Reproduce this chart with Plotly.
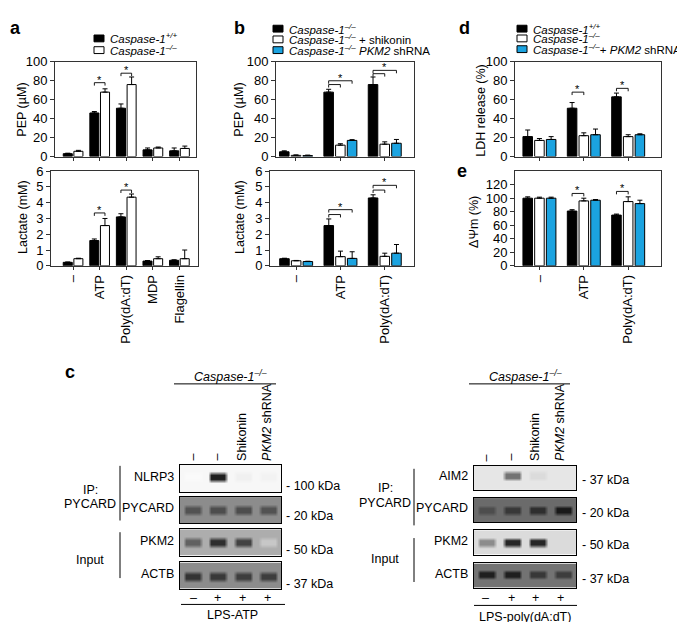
import plotly.graph_objects as go

W, H = 685, 622
FONT = "Liberation Sans, Arial, Helvetica, sans-serif"
BLUE = "#1ba3e0"

# ---------------- data ----------------
cats_a = ["–", "ATP", "Poly(dA:dT)", "MDP", "Flagellin"]
cats_b = ["–", "ATP", "Poly(dA:dT)"]

a_pep_wt = [3, 46, 51, 7, 6]
a_pep_wt_err = [0.5, 1.5, 4.5, 2, 3]
a_pep_ko = [5.5, 68, 76, 9, 8.5]
a_pep_ko_err = [1, 3.5, 8, 1, 2.5]

a_lac_wt = [0.22, 1.6, 3.1, 0.3, 0.35]
a_lac_wt_err = [0.02, 0.1, 0.2, 0.03, 0.03]
a_lac_ko = [0.45, 2.55, 4.35, 0.45, 0.45]
a_lac_ko_err = [0.03, 0.45, 0.2, 0.12, 0.55]

b_pep_ko = [5, 68, 76]
b_pep_ko_err = [1, 3, 8]
b_pep_shk = [1.2, 12, 13]
b_pep_shk_err = [0.5, 1.5, 2.5]
b_pep_sh = [1, 17, 14]
b_pep_sh_err = [0.5, 0.8, 4]

b_lac_ko = [0.45, 2.55, 4.3]
b_lac_ko_err = [0.03, 0.42, 0.2]
b_lac_shk = [0.32, 0.58, 0.6]
b_lac_shk_err = [0.02, 0.35, 0.2]
b_lac_sh = [0.27, 0.47, 0.8]
b_lac_sh_err = [0.02, 0.42, 0.55]

d_wt = [21, 51, 63]
d_wt_err = [7, 6, 4]
d_ko = [17, 22, 21]
d_ko_err = [2, 3, 2]
d_sh = [18, 23, 23]
d_sh_err = [3, 6, 1]

e_wt = [100, 81, 75]
e_wt_err = [2, 2, 1.5]
e_ko = [100, 96, 95]
e_ko_err = [1.5, 4, 7]
e_sh = [100, 97, 92]
e_sh_err = [1.5, 1, 5]

# significance brackets: (category, series_from, series_to, height)
a_pep_sig = [(1, 0, 1, 78), (2, 0, 1, 88)]
a_lac_sig = [(1, 0, 1, 3.35), (2, 0, 1, 4.8)]
b_pep_sig = [(1, 0, 1, 76), (1, 0, 2, 80), (2, 0, 1, 87.5), (2, 0, 2, 91)]
b_lac_sig = [(1, 0, 1, 3.25), (1, 0, 2, 3.56), (2, 0, 1, 4.8), (2, 0, 2, 5.1)]
d_sig = [(1, 0, 1, 68), (2, 0, 1, 72)]
e_sig = [(1, 0, 1, 107), (2, 0, 1, 110)]

# western blot band intensities (0 = white, 1 = black), 4 lanes each
blot_left_rows = ["NLRP3", "PYCARD", "PKM2", "ACTB"]
blot_left_kda = ["- 100 kDa", "- 20 kDa", "- 50 kDa", "- 37 kDa"]
blot_left_bands = [[0.02, 0.88, 0.06, 0.05],
                   [0.68, 0.70, 0.70, 0.68],
                   [0.62, 0.82, 0.74, 0.22],
                   [0.80, 0.78, 0.76, 0.76]]
blot_left_bg = [0.03, 0.45, 0.32, 0.45]

blot_right_rows = ["AIM2", "PYCARD", "PKM2", "ACTB"]
blot_right_kda = ["- 37 kDa", "- 20 kDa", "- 50 kDa", "- 37 kDa"]
blot_right_bands = [[0.10, 0.55, 0.14, 0.10],
                    [0.70, 0.78, 0.82, 0.90],
                    [0.45, 0.85, 0.85, 0.14],
                    [0.88, 0.88, 0.78, 0.76]]
blot_right_bg = [0.10, 0.58, 0.14, 0.55]

lane_labels = ["–", "–", "Shikonin", "<i>PKM2</i> shRNA"]
lps_signs = ["–", "+", "+", "+"]

# ---------------- helpers ----------------
fig = go.Figure()
layout = {}
shapes = []
annotations = []


def px_x(x):
    return x / W


def px_y(y):
    return 1 - y / H


def ann(text, x, y, size=12, xanchor="center", yanchor="middle", angle=0, **kw):
    annotations.append(dict(text=text, x=px_x(x), y=px_y(y), xref="paper", yref="paper",
                            showarrow=False, xanchor=xanchor, yanchor=yanchor,
                            textangle=angle, font=dict(family=FONT, size=size, color="black"), **kw))


def line(x0, y0, x1, y1, w=1):
    shapes.append(dict(type="line", xref="paper", yref="paper", x0=px_x(x0), y0=px_y(y0),
                       x1=px_x(x1), y1=px_y(y1), line=dict(color="black", width=w)))


axis_counter = [0]


def new_axes(xpx, ypx, xr, yr):
    axis_counter[0] += 1
    i = axis_counter[0]
    sfx = "" if i == 1 else str(i)
    layout["xaxis" + sfx] = dict(domain=[px_x(xpx[0]), px_x(xpx[1])], range=list(xr),
                                anchor="y" + sfx, showgrid=False, zeroline=False)
    layout["yaxis" + sfx] = dict(domain=[px_y(ypx[1]), px_y(ypx[0])], range=list(yr),
                                anchor="x" + sfx, showgrid=False, zeroline=False)
    return "x" + sfx, "y" + sfx, sfx


def bar_chart(xpx, ypx, xr, yr, series, widths, offsets, ytick, xlabels, sig, n):
    xa, ya, sfx = new_axes(xpx, ypx, xr, yr)
    cats = list(range(n))
    for (vals, errs, color), off in zip(series, offsets):
        fig.add_trace(go.Bar(x=cats, y=vals, width=widths, offset=off, xaxis=xa, yaxis=ya,
                             marker=dict(color=color, line=dict(color="black", width=1)),
                             error_y=dict(type="data", array=errs, arrayminus=[0] * n,
                                          symmetric=False, thickness=1, width=2.5, color="black"),
                             showlegend=False, hoverinfo="skip"))
    ax_style = dict(showline=True, linecolor="#333", linewidth=1, mirror=True,
                    ticks="outside", tickcolor="#333", tickfont=dict(family=FONT, size=13, color="black"))
    layout["xaxis" + sfx].update(ax_style, tickvals=cats, ticklen=3,
                                 ticktext=xlabels if xlabels else [""] * n, tickangle=-90)
    layout["yaxis" + sfx].update(ax_style, tickvals=ytick, ticklen=4)
    # brackets
    px_h = ypx[1] - ypx[0]
    tick = 3.0 * (yr[1] - yr[0]) / px_h
    centers = [o + widths / 2 for o in offsets]
    best = {}
    for cat, s1, s2, h in sig:
        x1, x2 = cat + centers[s1], cat + centers[s2]
        shapes.append(dict(type="path", xref=xa, yref=ya,
                           path=f"M {x1},{h - tick} L {x1},{h} L {x2},{h} L {x2},{h - tick}",
                           line=dict(color="black", width=0.9)))
        if cat not in best or h > best[cat][0]:
            best[cat] = (h, (x1 + x2) / 2)
    for cat, (h, xm) in best.items():
        annotations.append(dict(text="*", x=xm, y=h, xref=xa, yref=ya, showarrow=False,
                                yanchor="bottom", yshift=-5,
                                font=dict(family=FONT, size=11, color="black")))


def blot(xpx, ypx, bands, bg, yc=0.5, h=0.22):
    xa, ya, sfx = new_axes(xpx, ypx, (0, 4), (0, 1))
    xs = [0.0]
    for i in range(4):
        xs += [i + 0.1, i + 0.24, i + 0.76, i + 0.9]
    xs.append(4.0)
    yu = 1 - yc
    ys = [0.0, yu - h, yu - h / 3, yu + h / 3, yu + h, 1.0]
    band_row = [bg]
    for b in bands:
        band_row += [bg, b, b, bg]
    band_row.append(bg)
    bg_row = [bg] * len(xs)
    z = [bg_row, bg_row, band_row, band_row, bg_row, bg_row]
    fig.add_trace(go.Heatmap(x=xs, y=ys, z=z, xaxis=xa, yaxis=ya, zmin=0, zmax=1,
                             colorscale=[[0, "white"], [1, "black"]], zsmooth="best",
                             showscale=False, hoverinfo="skip"))
    st = dict(showline=True, linecolor="black", linewidth=1.3, mirror=True,
              showticklabels=False, ticks="")
    layout["xaxis" + sfx].update(st)
    layout["yaxis" + sfx].update(st)


# ---------------- panel a ----------------
two_w = 0.34
two_off = [-0.37, 0.03]
three_w = 0.215
three_off = [-0.371, -0.107, 0.157]

bar_chart((47, 188), (48, 145), (-0.68, 4.62), (0, 100),
          [(a_pep_wt, a_pep_wt_err, "black"), (a_pep_ko, a_pep_ko_err, "white")],
          two_w, two_off, [0, 20, 40, 60, 80, 100], None, a_pep_sig, 5)
bar_chart((43, 190), (160, 257), (-0.83, 4.70), (0, 6),
          [(a_lac_wt, a_lac_wt_err, "black"), (a_lac_ko, a_lac_ko_err, "white")],
          two_w, two_off, [0, 1, 2, 3, 4, 5, 6], cats_a, a_lac_sig, 5)

# ---------------- panel b ----------------
bar_chart((268, 406), (48, 145), (-0.45, 2.66), (0, 100),
          [(b_pep_ko, b_pep_ko_err, "black"), (b_pep_shk, b_pep_shk_err, "white"),
           (b_pep_sh, b_pep_sh_err, BLUE)],
          three_w, three_off, [0, 20, 40, 60, 80, 100], None, b_pep_sig, 3)
bar_chart((262, 406), (160, 257), (-0.59, 2.66), (0, 6),
          [(b_lac_ko, b_lac_ko_err, "black"), (b_lac_shk, b_lac_shk_err, "white"),
           (b_lac_sh, b_lac_sh_err, BLUE)],
          three_w, three_off, [0, 1, 2, 3, 4, 5, 6], cats_b, b_lac_sig, 3)

# ---------------- panel d / e ----------------
bar_chart((507, 653), (48, 145), (-0.55, 2.74), (0, 100),
          [(d_wt, d_wt_err, "black"), (d_ko, d_ko_err, "white"), (d_sh, d_sh_err, BLUE)],
          three_w, three_off, [0, 20, 40, 60, 80, 100], None, d_sig, 3)
bar_chart((507, 653), (160, 257), (-0.55, 2.74), (0, 140),
          [(e_wt, e_wt_err, "black"), (e_ko, e_ko_err, "white"), (e_sh, e_sh_err, BLUE)],
          three_w, three_off, [0, 20, 40, 60, 80, 100, 120], cats_b, e_sig, 3)

# axis titles
ann("PEP (µM)", 14, 97, size=12.5, angle=-90)
ann("Lactate (mM)", 15, 207, size=12.5, angle=-90)
ann("PEP (µM)", 231, 97, size=12.5, angle=-90)
ann("Lactate (mM)", 232, 207, size=12.5, angle=-90)
ann("LDH release (%)", 473, 98, size=12.5, angle=-90)
ann("ΔΨm (%)", 466, 212, size=12.5, angle=-90)

# panel letters
for t, x, y in [("a", 8, 13), ("b", 231, 13), ("d", 456, 13), ("e", 454, 160), ("c", 62, 366)]:
    ann(f"<b>{t}</b>", x, y, size=18)


# legends (swatch + text)
def legend(x0, rows, items):
    for y, (color, text) in zip(rows, items):
        shapes.append(dict(type="rect", xref="paper", yref="paper",
                           x0=px_x(x0), x1=px_x(x0 + 10), y0=px_y(y + 3.5), y1=px_y(y - 3.5),
                           fillcolor=color, line=dict(color="black", width=1)))
        ann(text, x0 + 14, y, size=11.5, xanchor="left")


C_WT = "<i>Caspase-1<sup>+/+</sup></i>"
C_KO = "<i>Caspase-1<sup>–/–</sup></i>"
legend(86, [24, 36], [("black", C_WT), ("white", C_KO)])
legend(265, [14, 25, 36], [("black", C_KO), ("white", C_KO + " + shikonin"),
                           (BLUE, C_KO + " <i>PKM2</i> shRNA")])
legend(509, [14, 24, 35], [("black", C_WT), ("white", C_KO),
                           (BLUE, C_KO + "+ <i>PKM2</i> shRNA")])

# ---------------- panel c : blots ----------------
left_rows_y = [(461, 489), (494, 521), (527, 554), (561, 588)]
right_rows_y = [(462, 487), (495, 520), (528, 553), (562, 587)]
left_band_c = [0.43, 0.5, 0.5, 0.52]
right_band_c = [0.4, 0.5, 0.5, 0.45]

for yy, bands, bg, yc in zip(left_rows_y, blot_left_bands, blot_left_bg, left_band_c):
    blot((172, 273), yy, bands, bg, yc)
for yy, bands, bg, yc in zip(right_rows_y, blot_right_bands, blot_right_bg, right_band_c):
    blot((466, 568), yy, bands, bg, yc)


def blot_labels(x0, x1, rows_y, names, kda, kda_y, lab_x, kda_x, vline_x, ip_y, inp_y,
                group_x, lane_x, bottom_line, bottom_y):
    ann(C_KO, (x0 + x1) / 2, 370, size=12.5)
    line(group_x[0], 378, group_x[1], 378)
    for lx, t in zip(lane_x, lane_labels):
        ann(t, lx, 459, size=12.5, angle=-90, yanchor="bottom")
    for (ya, yb), n in zip(rows_y, names):
        ann(n, lab_x, (ya + yb) / 2 - 2, size=12.5, xanchor="right")
    for t, ky in zip(kda, kda_y):
        ann(t, kda_x, ky, size=12.5, xanchor="left")
    line(vline_x, ip_y[0], vline_x, ip_y[1])
    line(vline_x, inp_y[0], vline_x, inp_y[1])
    for lx, s in zip(lane_x, lps_signs):
        ann(s, lx, 597, size=12.5)
    line(bottom_line[0], bottom_y, bottom_line[1], bottom_y)


blot_labels(172, 273, left_rows_y, blot_left_rows, blot_left_kda, [483, 513, 548, 583],
            168, 276, 112, (462, 518), (530, 577), (166, 268),
            [185, 209, 234, 259], (173, 277), 604)
ann("IP:", 82, 487, size=12.5)
ann("PYCARD", 82, 501, size=12.5)
ann("Input", 82, 558, size=12.5)
ann("LPS-ATP", 224, 615, size=12.5)

blot_labels(466, 568, right_rows_y, blot_right_rows, blot_right_kda, [477, 510, 543, 578],
            462, 572, 406, (465, 523), (536, 581), (461, 562),
            [478, 503, 527, 552], (466, 569), 605)
ann("IP:", 377, 485, size=12.5)
ann("PYCARD", 377, 500, size=12.5)
ann("Input", 377, 557, size=12.5)
ann("LPS-poly(dA:dT)", 517, 617, size=12.5)

layout.update(dict(width=W, height=H, margin=dict(l=0, r=0, t=0, b=0),
                   paper_bgcolor="white", plot_bgcolor="rgba(0,0,0,0)",
                   barmode="overlay", showlegend=False,
                   font=dict(family=FONT, size=12, color="black"),
                   shapes=shapes, annotations=annotations))
fig.update_layout(layout)
fig.write_html("out.html")
